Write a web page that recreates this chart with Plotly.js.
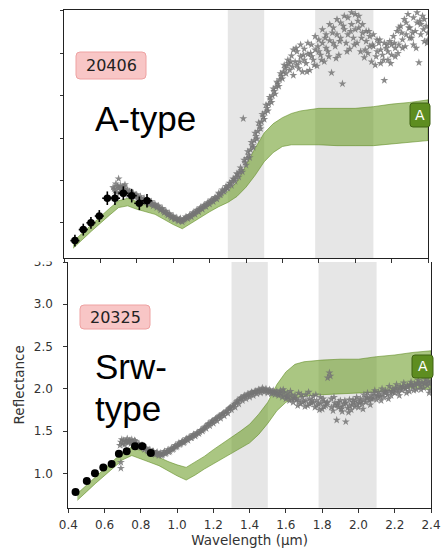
<!DOCTYPE html>
<html><head><meta charset="utf-8">
<script src="https://cdn.plot.ly/plotly-3.0.1.min.js"></script>
<style>html,body{margin:0;padding:0;background:#fff}#chart{width:442px;height:548px}</style>
</head><body><div id="chart"></div>
<script>
// ---- data ----
const bandStart = [1.3, 1.78];
const bandEnd = [1.5, 2.1];

// Top panel (20406, A-type)
const topModelW = [0.45,0.50,0.55,0.60,0.65,0.70,0.75,0.80,0.85,0.90,0.95,1.00,1.05,1.10,1.15,1.20,1.25,1.30,1.35,1.40,1.45,1.50,1.55,1.60,1.65,1.70,1.80,1.90,2.00,2.10,2.20,2.30,2.40];
const topModelLo = [0.70,0.80,0.90,1.00,1.09,1.18,1.20,1.16,1.13,1.10,1.04,0.98,0.93,0.99,1.06,1.13,1.19,1.24,1.31,1.42,1.56,1.72,1.83,1.90,1.92,1.92,1.92,1.91,1.91,1.91,1.93,1.95,1.97];
const topModelHi = [0.78,0.88,0.98,1.08,1.17,1.26,1.29,1.25,1.21,1.18,1.13,1.08,1.04,1.10,1.16,1.22,1.29,1.37,1.48,1.68,1.88,2.06,2.17,2.24,2.29,2.32,2.35,2.35,2.35,2.37,2.40,2.42,2.45];

const topSpecW = [0.67,0.68,0.685,0.69,0.70,0.70,0.705,0.71,0.715,0.72,0.725,0.73,0.735,0.74,0.75,0.755,0.76,0.77,0.78,0.79,0.80,0.81,0.82,0.83,0.84,0.85,0.86,0.87,0.88,0.89,0.90,0.91,0.92,0.93,0.94,0.95,0.96,0.97,0.98,0.99,1.00,1.01,1.02,1.03,1.04,1.05,1.06,1.07,1.08,1.09,1.10,1.11,1.12,1.13,1.14,1.15,1.16,1.17,1.18,1.19,1.20,1.21,1.22,1.23,1.24,1.25,1.26,1.27,1.28,1.29,1.30,
1.31,1.32,1.33,1.34,1.35,1.36,1.37,1.38,1.385,1.39,1.40,1.41,1.42,1.43,1.44,1.45,1.46,1.47,1.48,1.49,1.50,1.51,1.52,1.53,1.54,1.55,1.56,1.57,1.58,1.59,1.60,
1.61,1.62,1.63,1.64,1.65,1.66,1.67,1.68,1.69,1.70,1.71,1.72,1.73,1.74,1.75,1.76,1.77,1.78,1.79,1.80,1.81,1.82,1.83,1.84,1.85,1.86,1.87,1.88,1.89,1.90,1.91,1.92,1.93,1.94,1.95,1.96,1.97,1.98,1.99,2.00,2.01,2.02,2.03,2.04,2.05,2.06,2.07,2.08,2.09,2.10,2.11,2.12,2.13,2.14,2.15,2.16,2.17,2.18,2.19,2.20,2.21,2.22,2.23,2.24,2.25,2.26,2.27,2.28,2.29,2.30,2.31,2.32,2.33,2.34,2.35,2.36,2.37,2.38,2.39,2.40,
1.655,1.675,1.695,1.715,1.735,1.755,1.775,1.795,1.815,1.835,1.855,1.875,1.895,1.915,1.935,1.955,1.975,1.995,2.015,2.035,2.055,2.075,2.095,2.115,2.135,2.155,2.175,2.195,2.215,2.235,2.255,2.275,2.295,2.315,2.335,2.355,2.375,2.395];
const topSpecR = [1.42,1.38,1.46,1.36,1.52,1.41,1.35,1.44,1.38,1.42,1.34,1.40,1.45,1.36,1.39,1.33,1.37,1.32,1.35,1.30,1.33,1.28,1.31,1.26,1.29,1.24,1.27,1.22,1.25,1.20,1.22,1.18,1.20,1.15,1.17,1.12,1.14,1.09,1.11,1.06,1.08,1.04,1.06,1.02,1.05,1.01,1.04,1.07,1.05,1.09,1.07,1.12,1.10,1.15,1.13,1.18,1.16,1.21,1.19,1.24,1.22,1.27,1.25,1.30,1.28,1.35,1.33,1.39,1.37,1.43,1.41,
1.47,1.44,1.52,1.49,1.58,1.54,1.65,1.60,2.23,1.74,1.68,1.84,1.77,1.95,1.89,2.06,1.99,2.18,2.11,2.28,2.22,2.39,2.32,2.48,2.42,2.58,2.52,2.66,2.61,2.76,2.70,
2.86,2.76,2.92,2.80,2.97,2.74,2.90,3.02,2.82,2.96,2.78,3.05,2.88,2.99,2.80,3.10,2.92,3.04,2.85,3.16,2.98,3.12,2.90,3.22,3.02,3.15,2.77,3.30,3.08,3.22,2.98,3.36,2.64,3.28,3.12,3.42,3.05,3.34,3.18,3.46,3.12,3.30,3.02,3.24,2.95,3.14,3.00,3.20,2.90,3.08,2.86,3.02,3.12,2.88,2.98,2.68,3.06,2.92,3.14,2.98,3.20,3.06,3.26,3.10,3.32,3.16,3.40,3.22,3.46,3.30,3.18,3.42,3.26,3.36,2.89,3.22,3.44,3.14,3.32,3.24,
2.84,3.06,2.90,2.98,2.78,3.00,2.86,3.08,2.92,3.18,2.96,3.24,2.94,3.14,3.32,3.02,3.26,3.10,3.38,3.18,3.04,3.26,3.10,2.96,3.16,2.92,3.10,2.88,3.12,3.00,3.24,3.08,3.30,3.24,3.06,3.38,3.28,3.12];
const topSpec2W = [0.675,0.695,0.71,0.73,0.745,0.765,0.775,0.785,0.795,0.805,0.815,0.825,0.835,0.845,0.855,0.865,0.875,0.885,0.895,0.905,0.915,0.925,0.935,0.945,0.955,0.965,0.975,0.985,0.995,1.005,1.015,1.025,1.035,1.045,1.055,1.065,1.075,1.085,1.095,1.105,1.115,1.125,1.135,1.145,1.155,1.165,1.175,1.185,1.195,1.205,1.215,1.225,1.235,1.245,1.255,1.265,1.275,1.285,1.295,1.305,1.315,1.325,1.335,1.345,1.355,1.365,1.375,1.395,1.405,1.415,1.425,1.435,1.445,1.455,1.465,1.475,1.485,1.495,1.505,1.515,1.525,1.535,1.545,1.555,1.565,1.575,1.585,1.595,1.605,1.615,1.625,1.635,1.645,
1.66,1.68,1.70,1.72,1.74,1.76,1.78,1.80,1.82,1.84,1.86,1.88,1.90,1.92,1.94,1.96,1.98,2.00,2.02,2.04,2.06,2.08,2.10,2.12,2.14,2.16,2.18,2.20,2.22,2.24,2.26,2.28,2.30,2.32,2.34,2.36,2.38,2.40];
const topSpec2R = [1.40,1.43,1.39,1.43,1.37,1.35,1.34,1.32,1.33,1.30,1.29,1.28,1.27,1.26,1.25,1.24,1.23,1.22,1.21,1.20,1.19,1.17,1.16,1.14,1.13,1.11,1.10,1.08,1.07,1.05,1.05,1.03,1.04,1.02,1.03,1.05,1.06,1.07,1.08,1.10,1.11,1.13,1.14,1.16,1.17,1.19,1.20,1.22,1.23,1.25,1.26,1.28,1.29,1.31,1.33,1.35,1.37,1.39,1.41,1.44,1.46,1.49,1.51,1.54,1.57,1.60,1.62,1.71,1.76,1.80,1.86,1.91,1.97,2.02,2.08,2.14,2.19,2.25,2.30,2.35,2.40,2.45,2.50,2.55,2.60,2.64,2.69,2.73,2.78,2.82,2.85,2.88,2.90,
3.04,2.86,3.10,2.92,3.12,2.96,3.20,3.02,3.28,3.06,3.34,3.12,3.40,3.18,3.44,3.22,3.48,3.28,3.44,3.34,3.26,3.08,3.22,3.16,3.04,3.12,3.02,3.10,2.96,3.30,3.06,3.36,3.18,3.10,3.48,3.34,3.40,3.16];

const topPhotW = [0.46,0.506,0.548,0.594,0.638,0.68,0.726,0.772,0.814,0.856];
const topPhotR = [0.79,0.92,1.00,1.08,1.29,1.29,1.35,1.32,1.23,1.26];
const topPhotErrR = [0.07,0.07,0.07,0.07,0.08,0.08,0.08,0.08,0.08,0.08];
const topPhotErrW = [0.025,0.025,0.025,0.025,0.028,0.028,0.028,0.028,0.028,0.028];

// Bottom panel (20325, Srw-type)
const botModelW = [0.45,0.50,0.55,0.60,0.65,0.70,0.75,0.80,0.85,0.90,0.95,1.00,1.05,1.10,1.15,1.20,1.25,1.30,1.35,1.40,1.45,1.50,1.55,1.60,1.65,1.70,1.80,1.90,2.00,2.10,2.20,2.30,2.40];
const botModelLo = [0.68,0.78,0.88,0.98,1.07,1.16,1.21,1.17,1.13,1.09,1.03,0.97,0.92,0.98,1.05,1.12,1.18,1.24,1.30,1.36,1.46,1.59,1.74,1.84,1.89,1.91,1.93,1.94,1.95,1.96,1.99,2.01,1.99];
const botModelHi = [0.76,0.86,0.96,1.06,1.15,1.25,1.31,1.27,1.23,1.19,1.14,1.10,1.07,1.13,1.20,1.28,1.35,1.42,1.50,1.58,1.70,1.84,2.05,2.20,2.29,2.32,2.34,2.35,2.35,2.38,2.40,2.43,2.45];

const botSpecW = [0.69,0.69,0.685,0.69,0.70,0.705,0.71,0.72,0.725,0.73,0.74,0.745,0.75,0.76,0.77,0.78,0.79,0.80,0.81,0.82,0.83,0.84,0.85,0.86,0.87,0.88,0.89,0.90,0.91,0.92,0.93,0.94,0.95,0.96,0.97,0.98,0.99,1.00,1.01,1.02,1.03,1.04,1.05,1.06,1.07,1.08,1.09,1.10,1.11,1.12,1.13,1.14,1.15,1.16,1.17,1.18,1.19,1.20,1.21,1.22,1.23,1.24,1.25,1.26,1.27,1.28,1.29,1.30,
1.31,1.32,1.33,1.34,1.35,1.36,1.37,1.38,1.39,1.40,1.41,1.42,1.43,1.44,1.45,1.46,1.47,1.48,1.49,1.50,1.51,1.52,1.53,1.54,1.55,
1.56,1.57,1.58,1.59,1.60,1.61,1.62,1.63,1.64,1.65,1.66,1.67,1.68,1.69,1.70,1.71,1.72,1.73,1.74,1.75,1.76,1.77,1.78,1.79,1.80,1.81,1.82,1.83,1.84,1.845,1.85,1.86,1.87,1.88,1.89,1.90,1.91,1.92,1.93,1.94,1.95,1.96,1.97,1.98,1.99,2.00,2.01,2.02,2.03,2.04,2.05,2.06,2.07,2.08,2.09,2.10,2.11,2.12,2.13,2.14,2.15,2.16,2.17,2.18,2.19,2.20,2.21,2.22,2.23,2.24,2.25,2.26,2.27,2.28,2.29,2.30,2.31,2.32,2.33,2.34,2.35,2.36,2.37,2.38,2.39,2.40,
1.565,1.585,1.605,1.625,1.645,1.665,1.685,1.705,1.725,1.745,1.765,1.785,1.805,1.825,1.865,1.885,1.905,1.925,1.945,1.965,1.985,2.005,2.025,2.045,2.065,2.085,2.105,2.125,2.145,2.165,2.185,2.205,2.225,2.245,2.265,2.285,2.305,2.325,2.345,2.365,2.385,2.395];
const botSpecR = [1.13,1.06,1.33,1.37,1.35,1.39,1.34,1.38,1.41,1.36,1.39,1.35,1.40,1.36,1.38,1.33,1.35,1.31,1.33,1.28,1.30,1.26,1.28,1.24,1.26,1.22,1.25,1.21,1.24,1.22,1.26,1.24,1.28,1.26,1.30,1.29,1.33,1.32,1.36,1.35,1.38,1.37,1.41,1.39,1.43,1.42,1.46,1.44,1.48,1.47,1.51,1.50,1.54,1.53,1.58,1.56,1.61,1.59,1.64,1.62,1.67,1.65,1.70,1.68,1.73,1.71,1.77,1.75,
1.80,1.78,1.85,1.82,1.89,1.86,1.92,1.88,1.94,1.90,1.96,1.92,1.97,1.94,1.99,1.95,2.01,1.96,2.00,1.95,1.99,1.94,1.98,1.93,1.97,
1.92,1.98,1.90,1.96,1.88,1.95,1.86,1.93,1.84,1.92,1.87,1.95,1.82,1.90,1.85,1.93,1.80,1.88,1.83,1.91,1.78,1.86,1.82,1.90,1.76,1.85,1.80,2.13,2.19,2.15,1.88,1.74,1.83,1.63,1.78,1.86,1.73,1.82,1.61,1.77,1.87,1.75,1.84,1.79,1.90,1.78,1.88,1.82,1.93,1.84,1.95,1.86,1.92,1.88,1.98,1.87,1.96,1.91,2.00,1.90,1.98,1.93,2.03,1.92,2.00,1.95,2.05,1.96,2.03,1.98,2.07,2.00,2.04,1.97,2.08,2.02,2.06,1.99,2.10,2.03,2.08,2.01,2.11,2.04,1.95,2.08,
1.95,1.99,1.91,1.97,1.89,1.80,1.93,1.79,1.96,1.86,1.93,1.75,1.88,1.83,1.90,1.81,1.76,1.86,1.72,1.81,1.86,1.83,1.76,1.90,1.81,1.95,1.92,1.86,1.96,1.88,1.97,2.01,1.92,2.02,1.95,2.05,1.98,2.07,1.99,2.06,2.09,1.98];
const botSpec2W = [0.695,0.715,0.735,0.755,0.765,0.775,0.785,0.795,0.805,0.815,0.825,0.835,0.845,0.855,0.865,0.875,0.885,0.895,0.905,0.915,0.925,0.935,0.945,0.955,0.965,0.975,0.985,0.995,1.005,1.015,1.025,1.035,1.045,1.055,1.065,1.075,1.085,1.095,1.105,1.115,1.125,1.135,1.145,1.155,1.165,1.175,1.185,1.195,1.205,1.215,1.225,1.235,1.245,1.255,1.265,1.275,1.285,1.295,1.305,1.315,1.325,1.335,1.345,1.355,1.365,1.375,1.385,1.395,1.405,1.415,1.425,1.435,1.445,1.455,1.465,1.475,1.485,1.495,1.505,1.515,1.525,1.535,1.545,1.555,
1.57,1.59,1.61,1.63,1.65,1.67,1.69,1.71,1.73,1.75,1.77,1.79,1.81,1.83,1.85,1.87,1.89,1.91,1.93,1.95,1.97,1.99,2.01,2.03,2.05,2.07,2.09,2.11,2.13,2.15,2.17,2.19,2.21,2.23,2.25,2.27,2.29,2.31,2.33,2.35,2.37,2.39];
const botSpec2R = [1.40,1.37,1.38,1.37,1.39,1.35,1.34,1.32,1.33,1.30,1.29,1.27,1.27,1.25,1.26,1.23,1.24,1.22,1.23,1.21,1.24,1.23,1.26,1.25,1.28,1.28,1.31,1.31,1.34,1.34,1.37,1.36,1.39,1.40,1.42,1.42,1.44,1.45,1.46,1.48,1.49,1.51,1.52,1.55,1.56,1.59,1.59,1.62,1.62,1.65,1.66,1.68,1.69,1.71,1.72,1.74,1.76,1.78,1.79,1.82,1.83,1.86,1.87,1.89,1.90,1.91,1.92,1.93,1.94,1.95,1.96,1.97,1.97,1.98,1.98,1.99,1.98,1.98,1.97,1.97,1.96,1.96,1.95,1.94,
1.94,1.92,1.90,1.88,1.88,1.86,1.84,1.86,1.82,1.84,1.80,1.83,1.79,1.84,1.78,1.80,1.84,1.79,1.83,1.80,1.87,1.82,1.85,1.87,1.89,1.88,1.92,1.91,1.94,1.95,1.97,1.96,1.99,2.00,2.02,2.02,2.04,2.04,2.06,2.05,2.07,2.06];

const botPhotW = [0.44,0.502,0.547,0.593,0.639,0.679,0.722,0.768,0.808,0.855];
const botPhotR = [0.78,0.91,1.00,1.07,1.11,1.23,1.26,1.32,1.32,1.24];

const yTicks = [1.0,1.5,2.0,2.5,3.0,3.5];
const xTicks = [0.4,0.6,0.8,1.0,1.2,1.4,1.6,1.8,2.0,2.2,2.4];

// ---- helpers ----
const W = 442, H = 548;
const PX = v => v / W, PY = v => 1 - v / H;
function rr(x0, y0, x1, y1, r) {
  const X = PX, Y = PY;
  return `M${X(x0+r)},${Y(y0)} L${X(x1-r)},${Y(y0)} Q${X(x1)},${Y(y0)} ${X(x1)},${Y(y0+r)} L${X(x1)},${Y(y1-r)} Q${X(x1)},${Y(y1)} ${X(x1-r)},${Y(y1)} L${X(x0+r)},${Y(y1)} Q${X(x0)},${Y(y1)} ${X(x0)},${Y(y1-r)} L${X(x0)},${Y(y0+r)} Q${X(x0)},${Y(y0)} ${X(x0+r)},${Y(y0)} Z`;
}
function bandPoly(w, lo, hi) {
  return { x: w.concat(w.slice().reverse()), y: hi.concat(lo.slice().reverse()) };
}

const greenFill = 'rgba(100,151,28,0.55)';
const greenLine = 'rgba(90,135,25,0.55)';
const starColor = 'rgba(118,118,118,0.85)';

const tp = bandPoly(topModelW, topModelLo, topModelHi);
const bp = bandPoly(botModelW, botModelLo, botModelHi);
const starMarker = {symbol: 'star', size: 6, color: starColor, line: {width: 0}};

const traces = [
  {x: tp.x, y: tp.y, xaxis: 'x', yaxis: 'y', mode: 'lines', fill: 'toself', fillcolor: greenFill, line: {color: greenLine, width: 1}, hoverinfo: 'skip', showlegend: false},
  {x: topSpecW.concat(topSpec2W), y: topSpecR.concat(topSpec2R), xaxis: 'x', yaxis: 'y', mode: 'markers', marker: starMarker, showlegend: false},
  {x: topPhotW, y: topPhotR, xaxis: 'x', yaxis: 'y', mode: 'markers', marker: {size: 7.5, color: '#000'},
   error_y: {type: 'data', array: topPhotErrR, color: '#000', thickness: 1.6, width: 0},
   error_x: {type: 'data', array: topPhotErrW, color: '#000', thickness: 1.6, width: 0}, showlegend: false},
  {x: bp.x, y: bp.y, xaxis: 'x2', yaxis: 'y2', mode: 'lines', fill: 'toself', fillcolor: greenFill, line: {color: greenLine, width: 1}, hoverinfo: 'skip', showlegend: false},
  {x: botSpecW.concat(botSpec2W), y: botSpecR.concat(botSpec2R), xaxis: 'x2', yaxis: 'y2', mode: 'markers', marker: starMarker, showlegend: false},
  {x: botPhotW, y: botPhotR, xaxis: 'x2', yaxis: 'y2', mode: 'markers', marker: {size: 8, color: '#000'}, showlegend: false}
];

const tickFont = {family: 'DejaVu Sans', size: 12, color: '#333'};
const axisLine = {showline: true, linecolor: '#222', linewidth: 1, showgrid: false, zeroline: false, ticks: 'outside', ticklen: 4, tickcolor: '#333', tickwidth: 1};

const shapes = [];
for (let i = 0; i < bandStart.length; i++) {
  shapes.push({type: 'rect', xref: 'x', yref: 'y domain', x0: bandStart[i], x1: bandEnd[i], y0: 0, y1: 1, fillcolor: '#e6e6e6', line: {width: 0}, layer: 'below'});
  shapes.push({type: 'rect', xref: 'x2', yref: 'y2 domain', x0: bandStart[i], x1: bandEnd[i], y0: 0, y1: 1, fillcolor: '#e6e6e6', line: {width: 0}, layer: 'below'});
}
shapes.push({type: 'rect', xref: 'paper', yref: 'paper', x0: 0, x1: PX(60), y0: PY(261.5), y1: 1, fillcolor: '#fff', line: {width: 0}, layer: 'above'});
shapes.push({type: 'path', xref: 'paper', yref: 'paper', path: rr(76, 52, 146, 79, 4), fillcolor: '#f8c6c6', line: {color: '#eea2a2', width: 1}, layer: 'above'});
shapes.push({type: 'path', xref: 'paper', yref: 'paper', path: rr(80, 305, 150, 329, 4), fillcolor: '#f8c6c6', line: {color: '#eea2a2', width: 1}, layer: 'above'});
shapes.push({type: 'path', xref: 'paper', yref: 'paper', path: rr(410, 103, 430, 127, 3), fillcolor: '#5e8d20', line: {color: '#3f6212', width: 1}, layer: 'above'});
shapes.push({type: 'path', xref: 'paper', yref: 'paper', path: rr(412, 355, 433, 378, 3), fillcolor: '#5e8d20', line: {color: '#3f6212', width: 1}, layer: 'above'});

const ann = (text, x, y, font, xanchor) => ({text, xref: 'paper', yref: 'paper', x: PX(x), y: PY(y), xanchor: xanchor || 'center', yanchor: 'middle', showarrow: false, font});
const annotations = [
  ann('20406', 111, 65.5, {family: 'DejaVu Sans', size: 16, color: '#222'}),
  ann('20325', 115, 317, {family: 'DejaVu Sans', size: 16, color: '#222'}),
  ann('A', 420, 115, {family: 'DejaVu Sans', size: 14, color: '#fff'}),
  ann('A', 422.5, 366.5, {family: 'DejaVu Sans', size: 14, color: '#fff'}),
  ann('A-type', 93, 118.5, {family: 'Liberation Sans', size: 35, color: '#000'}, 'left'),
  ann('Srw-', 93, 366, {family: 'Liberation Sans', size: 35, color: '#000'}, 'left'),
  ann('type', 93, 408, {family: 'Liberation Sans', size: 35, color: '#000'}, 'left')
];

const layout = {
  width: W, height: H,
  margin: {l: 0, r: 0, t: 0, b: 0, pad: 0},
  paper_bgcolor: '#fff', plot_bgcolor: '#fff',
  showlegend: false,
  xaxis: Object.assign({}, axisLine, {domain: [PX(64), PX(428)], anchor: 'y', range: [0.4, 2.4], tickvals: xTicks, showticklabels: false, mirror: true}),
  yaxis: Object.assign({}, axisLine, {domain: [PY(258), PY(10)], anchor: 'x', range: [0.585, 3.51], tickvals: yTicks, showticklabels: false, mirror: true}),
  xaxis2: Object.assign({}, axisLine, {domain: [PX(68.3), PX(431)], anchor: 'y2', range: [0.4, 2.4], tickvals: xTicks, ticktext: xTicks.map(v => v.toFixed(1)), tickmode: 'array', tickfont: tickFont, ticklabelstandoff: 2,
    title: {text: 'Wavelength (μm)', font: {family: 'DejaVu Sans', size: 13.5, color: '#333'}, standoff: 0}}),
  yaxis2: Object.assign({}, axisLine, {domain: [PY(507.7), PY(262)], anchor: 'x2', range: [0.593, 3.5], tickvals: yTicks, ticktext: yTicks.map(v => v.toFixed(1)), tickmode: 'array', tickfont: tickFont, mirror: true, ticklabelstandoff: 8,
    title: {text: 'Reflectance', font: {family: 'DejaVu Sans', size: 13.5, color: '#333'}, standoff: 6}}),
  shapes, annotations
};

Plotly.newPlot('chart', traces, layout, {staticPlot: true, displayModeBar: false});
</script>
</body></html>
